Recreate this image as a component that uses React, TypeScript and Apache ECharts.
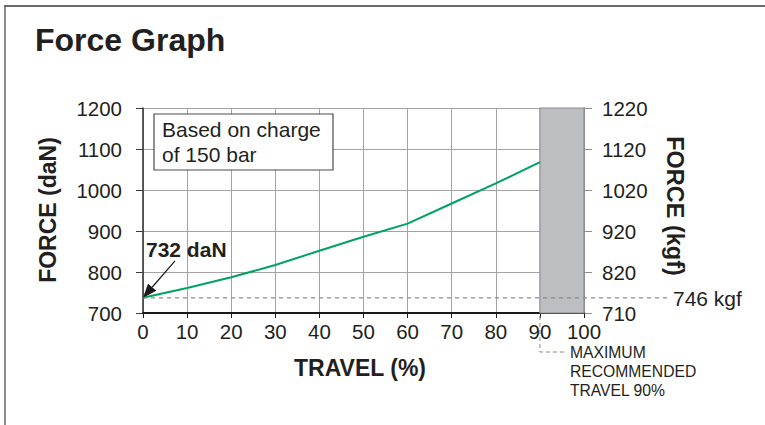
import React, { useEffect, useRef } from "react";
import * as echarts from "echarts";

const TITLE = "Force Graph";
const TRAVEL = [0, 10, 20, 30, 40, 50, 60, 70, 80, 90];
const FORCE_DAN = [737, 761, 787, 817, 852, 886, 918, 967, 1016, 1068];
const KGF_LABELS = ["710", "820", "920", "1020", "1120", "1220"];
const Y_MIN = 700;
const Y_MAX = 1200;
const Y_STEP = 100;
const X_MIN = 0;
const X_MAX = 100;
const X_STEP = 10;
const REF_DAN = 737;
const REF_KGF_LABEL = "746 kgf";
const START_LABEL = "732 daN";
const MAX_TRAVEL = 90;
const NOTE_LINES = ["Based on charge", "of 150 bar"];
const MAX_NOTE_LINES = ["MAXIMUM", "RECOMMENDED", "TRAVEL 90%"];

const FONT = "'Liberation Sans', Arial, Helvetica, sans-serif";
const TXT = "#231f20";
const GRID_C = "#a3a3a3";
const TICK_FS = 20.5;

export default function App() {
  const ref = useRef<HTMLDivElement>(null);
  useEffect(() => {
    if (!ref.current) return;
    const chart = echarts.init(ref.current, null, { renderer: "svg" });
    const data = TRAVEL.map((t, i) => [t, FORCE_DAN[i]]);
    chart.setOption({
      animation: false,
      backgroundColor: "#ffffff",
      textStyle: { fontFamily: FONT },
      grid: { left: 143, right: 181, top: 108, bottom: 112, containLabel: false },
      xAxis: {
        type: "value",
        min: X_MIN,
        max: X_MAX,
        interval: X_STEP,
        axisLine: { show: true, onZero: false, lineStyle: { color: "#1a1a1a", width: 2.2 } },
        axisTick: { show: true, length: 5, lineStyle: { color: "#1a1a1a", width: 1 } },
        axisLabel: { fontSize: TICK_FS, color: TXT, margin: 8, fontFamily: FONT, formatter: (v: number) => String(v) },
        splitLine: { show: true, lineStyle: { color: GRID_C, width: 1 } },
      },
      yAxis: [
        {
          type: "value",
          min: Y_MIN,
          max: Y_MAX,
          interval: Y_STEP,
          position: "left",
          axisLine: { show: true, lineStyle: { color: "#3a3a3a", width: 1.6 } },
          axisTick: { show: true, length: 7, lineStyle: { color: "#3a3a3a", width: 1 } },
          axisLabel: { fontSize: TICK_FS, color: TXT, margin: 21, fontFamily: FONT, formatter: (v: number) => String(v) },
          splitLine: { show: true, lineStyle: { color: GRID_C, width: 1 } },
        },
        {
          type: "value",
          min: Y_MIN,
          max: Y_MAX,
          interval: Y_STEP,
          position: "right",
          axisLine: { show: true, lineStyle: { color: "#8e8e90", width: 1.6 } },
          axisTick: { show: true, length: 8, lineStyle: { color: "#8e8e90", width: 1 } },
          axisLabel: {
            fontSize: TICK_FS,
            color: TXT,
            margin: 18,
            fontFamily: FONT,
            formatter: (v: number) => KGF_LABELS[Math.round((v - Y_MIN) / Y_STEP)] ?? "",
          },
          splitLine: { show: false },
        },
      ],
      series: [
        {
          type: "line",
          data,
          symbol: "none",
          smooth: false,
          lineStyle: { color: "#00a260", width: 2 },
          z: 5,
          markArea: {
            silent: true,
            itemStyle: { color: "#bdbec1", borderColor: "#8e8e90", borderWidth: 1.2 },
            data: [[{ xAxis: MAX_TRAVEL }, { xAxis: X_MAX }]],
          },
        },
      ],
    });

    const p0 = chart.convertToPixel({ gridIndex: 0 }, [X_MIN, REF_DAN]) as number[];
    const pR = chart.convertToPixel({ gridIndex: 0 }, [X_MAX, REF_DAN]) as number[];
    const p90 = chart.convertToPixel({ gridIndex: 0 }, [MAX_TRAVEL, Y_MIN]) as number[];

    // arrow
    const tail = [p0[0] + 32, p0[1] - 37];
    const dx = p0[0] - tail[0];
    const dy = p0[1] - tail[1];
    const len = Math.sqrt(dx * dx + dy * dy);
    const ux = dx / len;
    const uy = dy / len;
    const headL = 14;
    const headW = 5.5;
    const base = [p0[0] - ux * headL, p0[1] - uy * headL];
    const head = [
      [p0[0], p0[1]],
      [base[0] - uy * headW, base[1] + ux * headW],
      [base[0] + uy * headW, base[1] - ux * headW],
    ];

    chart.setOption({
      graphic: [
        { type: "line", shape: { x1: 4, y1: 6, x2: 765, y2: 6 }, style: { stroke: "#3a3a3a", lineWidth: 1.5 } },
        { type: "line", shape: { x1: 5, y1: 6, x2: 5, y2: 425 }, style: { stroke: "#6a6a6a", lineWidth: 1.5 } },
        {
          type: "text",
          left: 35,
          top: 24,
          style: { text: TITLE, font: `bold 32px ${FONT}`, fill: TXT },
        },
        {
          type: "text",
          x: 48,
          y: 210,
          rotation: Math.PI / 2,
          style: { text: "FORCE (daN)", font: `bold 23px ${FONT}`, fill: TXT, align: "center", verticalAlign: "middle" },
        },
        {
          type: "text",
          x: 675,
          y: 206,
          rotation: -Math.PI / 2,
          style: { text: "FORCE (kgf)", font: `bold 23.5px ${FONT}`, fill: TXT, align: "center", verticalAlign: "middle" },
        },
        {
          type: "text",
          x: 360,
          y: 368,
          style: { text: "TRAVEL (%)", font: `bold 23px ${FONT}`, fill: TXT, align: "center", verticalAlign: "middle" },
        },
        {
          type: "line",
          z: 10,
          shape: { x1: p0[0], y1: p0[1], x2: pR[0] + 84, y2: p0[1] },
          style: { stroke: "#8a8a8a", lineWidth: 1.2, lineDash: [4, 4] },
        },
        {
          type: "text",
          z: 10,
          x: pR[0] + 89,
          y: p0[1] + 1,
          style: { text: REF_KGF_LABEL, font: `21px ${FONT}`, fill: TXT, align: "left", verticalAlign: "middle" },
        },
        {
          type: "rect",
          z: 10,
          shape: { x: 154, y: 114, width: 179, height: 56 },
          style: { fill: "#ffffff", stroke: "#4a4a4a", lineWidth: 1.2 },
        },
        {
          type: "text",
          z: 11,
          x: 162,
          y: 142,
          style: {
            text: NOTE_LINES.join("\n"),
            font: `21px ${FONT}`,
            fill: TXT,
            lineHeight: 25,
            align: "left",
            verticalAlign: "middle",
          },
        },
        {
          type: "text",
          z: 11,
          x: p0[0] + 3,
          y: p0[1] - 48,
          style: { text: START_LABEL, font: `bold 21px ${FONT}`, fill: TXT, align: "left", verticalAlign: "middle" },
        },
        {
          type: "line",
          z: 11,
          shape: { x1: tail[0], y1: tail[1], x2: base[0], y2: base[1] },
          style: { stroke: "#1a1a1a", lineWidth: 1.2 },
        },
        {
          type: "polygon",
          z: 11,
          shape: { points: head },
          style: { fill: "#1a1a1a" },
        },
        {
          type: "polyline",
          z: 10,
          shape: { points: [[p90[0], p90[1] + 3], [p90[0], p90[1] + 39], [p90[0] + 26, p90[1] + 39]] },
          style: { stroke: "#8a8a8a", lineWidth: 1, lineDash: [4, 3], fill: null },
        },
        {
          type: "text",
          z: 10,
          x: p90[0] + 30,
          y: p90[1] + 58,
          style: {
            text: MAX_NOTE_LINES.join("\n"),
            font: `15.7px ${FONT}`,
            fill: TXT,
            lineHeight: 19,
            align: "left",
            verticalAlign: "middle",
          },
        },
      ],
    });

    return () => chart.dispose();
  }, []);

  return (
    <div
      ref={ref}
      style={{ position: "absolute", left: 0, top: 0, width: 765, height: 425, background: "#fff" }}
    />
  );
}
